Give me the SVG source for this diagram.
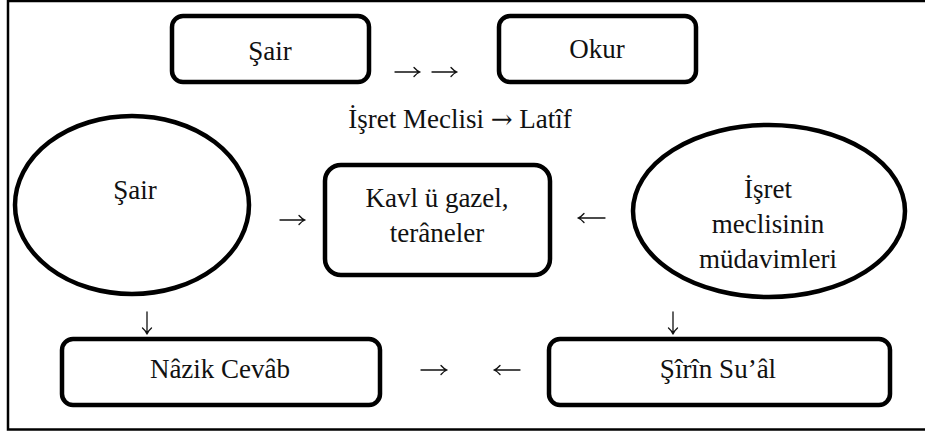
<svg xmlns="http://www.w3.org/2000/svg" width="925" height="434" viewBox="0 0 925 434">
  <style>
    .box { fill: #fff; stroke: #000; stroke-width: 4.5; }
    .oval { fill: #fff; stroke: #000; stroke-width: 4.5; }
    .t { font-family: "Liberation Serif", "Times New Roman", serif; font-size: 27px; fill: #111; text-anchor: middle; }
    .t .sym { font-family: "DejaVu Serif", serif; font-size: 26px; }
    .arw { fill: none; stroke: #111; stroke-width: 1.3; stroke-linecap: round; stroke-linejoin: round; }
  </style>
  <rect x="0" y="0" width="925" height="434" fill="#fff"/>
  <!-- outer frame (right side runs past the edge) -->
  <rect x="8" y="1" width="930" height="428.5" fill="none" stroke="#000" stroke-width="2.5"/>

  <g id="sair-top">
    <rect class="box" x="172" y="16" width="197" height="66" rx="11"/>
    <text class="t" x="270" y="60">Şair</text>
  </g>
  <g id="okur">
    <rect class="box" x="499" y="16" width="197" height="66" rx="11"/>
    <text class="t" x="597" y="58">Okur</text>
  </g>
  <g id="isret-label">
    <text class="t" x="460" y="128">İşret Meclisi <tspan class="sym">→</tspan> Latîf</text>
  </g>
  <g id="sair-oval">
    <ellipse class="oval" cx="132" cy="205" rx="117" ry="89"/>
    <text class="t" x="135" y="199">Şair</text>
  </g>
  <g id="kavl">
    <rect class="box" x="325" y="165" width="225" height="110" rx="16"/>
    <text class="t" x="437" y="207">Kavl ü gazel,</text>
    <text class="t" x="437" y="242">terâneler</text>
  </g>
  <g id="mudavim">
    <ellipse class="oval" cx="769" cy="211" rx="136" ry="86"/>
    <text class="t" x="768" y="198">İşret</text>
    <text class="t" x="768" y="233">meclisinin</text>
    <text class="t" x="768" y="268">müdavimleri</text>
  </g>
  <g id="nazik-cevab">
    <rect class="box" x="62" y="339" width="318" height="66" rx="11"/>
    <text class="t" x="220" y="378">Nâzik Cevâb</text>
  </g>
  <g id="sirin-sual">
    <rect class="box" x="549" y="339" width="341" height="66" rx="11"/>
    <text class="t" x="718" y="378">Şîrîn Su’âl</text>
  </g>

  <!-- arrows: shaft plus open chevron head -->
  <g id="connectors" class="arw">
    <path d="M395,72 H420 M414,67.5 Q417,71 420,72 Q417,73 414,76.5"/>
    <path d="M432,72 H457 M451,67.5 Q454,71 457,72 Q454,73 451,76.5"/>
    <path d="M280,220 H305 M299,215.5 Q302,219 305,220 Q302,221 299,224.5"/>
    <path d="M605,218 H578 M584,213.5 Q581,217 578,218 Q581,219 584,222.5"/>
    <path d="M147,312 V334 M142.5,328 Q146,331 147,334 Q148,331 151.5,328"/>
    <path d="M673,312 V334 M668.5,328 Q672,331 673,334 Q674,331 677.5,328"/>
    <path d="M421,370 H447 M441,365.5 Q444,369 447,370 Q444,371 441,374.5"/>
    <path d="M520,370 H494 M500,365.5 Q497,369 494,370 Q497,371 500,374.5"/>
  </g>
</svg>
